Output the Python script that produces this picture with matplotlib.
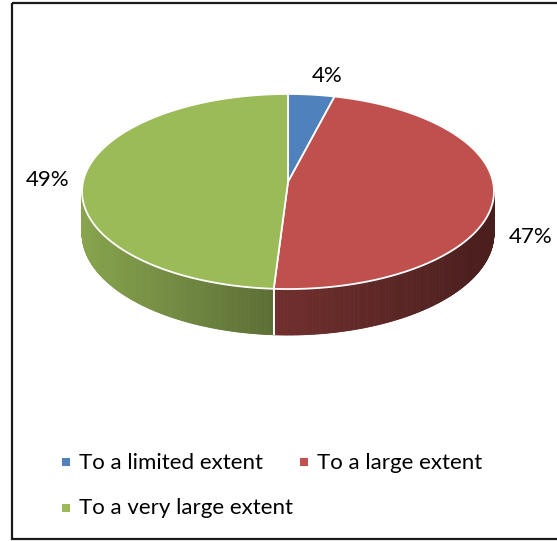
import numpy as np
import matplotlib
matplotlib.use("Agg")
import matplotlib.pyplot as plt
from matplotlib.patches import Polygon, Rectangle
from matplotlib.collections import PolyCollection
from matplotlib.colors import to_rgb

categories = ["To a limited extent", "To a large extent", "To a very large extent"]
values = [4, 47, 49]
labels = ["4%", "47%", "49%"]
colors = ["#4f81bd", "#c0504d", "#9bbb59"]

W, H = 557, 541
fig = plt.figure(figsize=(W / 100, H / 100), dpi=100)
ax = fig.add_axes([0, 0, 1, 1])
ax.set_xlim(0, W)
ax.set_ylim(H, 0)
ax.axis('off')

FONT = "Lato"
FS = 16

# perspective pie geometry (pixels)
cx, cy = 288, 182
A, B, k = 205, 96.6, 0.0975
D = 41.5


def proj(theta, z=0.0):
    X, Y = np.cos(theta), np.sin(theta)
    s = 1 + k * Y
    return cx + A * X / s, cy - B * Y / s + D * z / s


def shade(x):
    return np.interp(x, [82, 280, 494], [0.88, 0.58, 0.38])


fr = np.array(values, dtype=float) / np.sum(values)
starts = np.pi / 2 - 2 * np.pi * np.concatenate([[0], np.cumsum(fr)[:-1]])
ends = starts - 2 * np.pi * fr

vis_lo = -np.pi + np.arcsin(k)
vis_hi = -np.arcsin(k)

# side (rim) faces
for i in range(len(values)):
    a0, a1 = starts[i], ends[i]
    for shift in (-2 * np.pi, 0, 2 * np.pi):
        lo = max(a1 + shift, vis_lo)
        hi = min(a0 + shift, vis_hi)
        if hi <= lo:
            continue
        ts = np.linspace(lo, hi, 200)
        polys, fcs = [], []
        base = np.array(to_rgb(colors[i]))
        for ta, tb in zip(ts[:-1], ts[1:]):
            xa0, ya0 = proj(ta, 0)
            xb0, yb0 = proj(tb, 0)
            xa1, ya1 = proj(ta, 1)
            xb1, yb1 = proj(tb, 1)
            polys.append([(xa0, ya0), (xb0, yb0), (xb1, yb1), (xa1, ya1)])
            fcs.append(np.clip(base * shade((xa0 + xb0) / 2), 0, 1))
        ax.add_collection(PolyCollection(polys, facecolors=fcs, edgecolors=fcs,
                                         linewidths=0.6, zorder=2))
for i in range(len(values)):
    for shift in (-2 * np.pi, 0, 2 * np.pi):
        tt = starts[i] + shift
        if vis_lo < tt < vis_hi:
            x0, y0 = proj(tt, 0)
            x1, y1 = proj(tt, 1)
            ax.plot([x0, x1], [y0, y1], color='white', lw=1.4, zorder=3,
                    solid_capstyle='butt')

# top faces
for i in range(len(values)):
    ts = np.linspace(starts[i], ends[i], 300)
    xs, ys = proj(ts, 0)
    pts = [(cx, cy)] + list(zip(xs, ys))
    ax.add_patch(Polygon(pts, closed=True, facecolor=colors[i], edgecolor='white',
                         lw=1.3, joinstyle='round', zorder=4))

# data labels
label_pos = [(327, 82), (531, 243), (48, 186)]
for lab, (x, y) in zip(labels, label_pos):
    ax.text(x, y, lab, ha='center', va='baseline', fontsize=FS, family=FONT,
            color='black', zorder=5)

# legend
leg_pos = [(62, 458, 79, 469), (300, 458, 317, 469), (62, 504, 79, 514)]
for cat, col, (mx, my, tx, ty) in zip(categories, colors, leg_pos):
    ax.add_patch(Rectangle((mx, my), 8, 8, facecolor=col, edgecolor='none', zorder=5))
    ax.text(tx, ty, cat, ha='left', va='baseline', fontsize=FS, family=FONT,
            color='black', zorder=5)

# chart frame
ax.add_patch(Rectangle((12, 3), 600, 536, facecolor='none', edgecolor='#1a1a1a',
                       lw=1.6, zorder=6, clip_on=False))

fig.savefig("out.png", dpi=100)
